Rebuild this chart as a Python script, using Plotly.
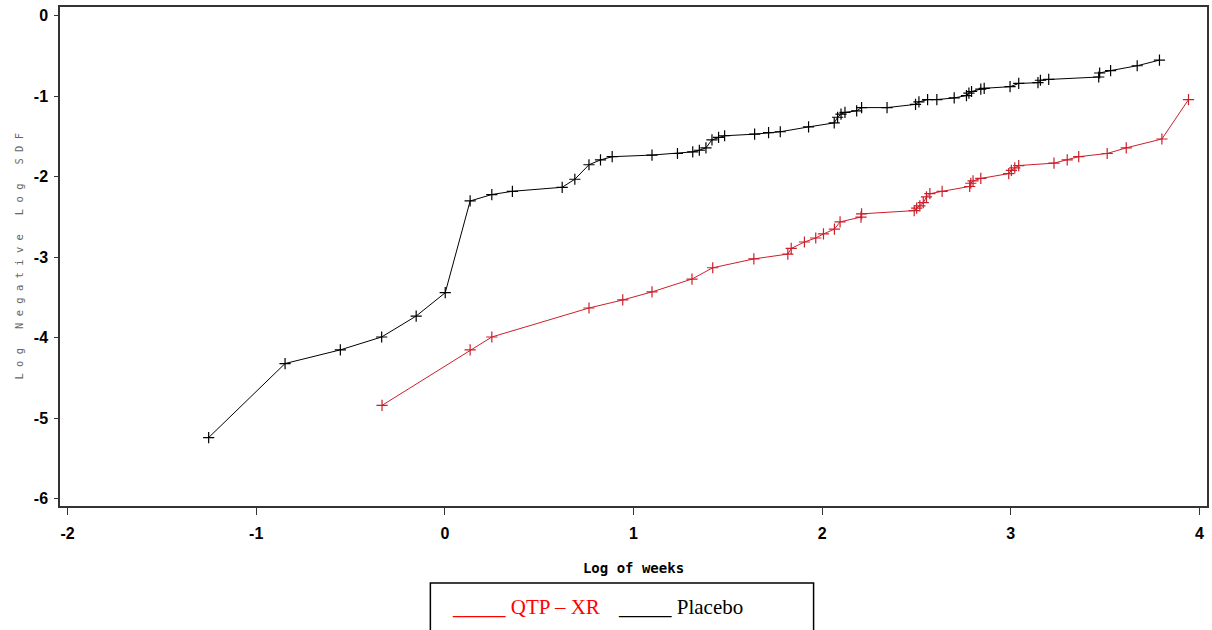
import plotly.graph_objects as go

# Placebo (black)
placebo_x = [-1.252, -0.847, -0.554, -0.335, -0.152, 0.002, 0.134, 0.249, 0.358, 0.622,
             0.689, 0.764, 0.825, 0.887, 1.098, 1.233, 1.314, 1.349, 1.384, 1.416,
             1.451, 1.483, 1.642, 1.716, 1.778, 1.928, 2.064, 2.082, 2.100, 2.121,
             2.183, 2.209, 2.344, 2.495, 2.513, 2.559, 2.608, 2.700, 2.765, 2.778,
             2.792, 2.841, 2.859, 2.996, 3.042, 3.144, 3.157, 3.201, 3.466, 3.471,
             3.529, 3.670, 3.788]
placebo_y = [-5.24, -4.32, -4.15, -3.99, -3.73, -3.44, -2.30, -2.22, -2.18, -2.13,
             -2.03, -1.85, -1.79, -1.75, -1.73, -1.71, -1.69, -1.67, -1.64, -1.54,
             -1.51, -1.49, -1.47, -1.45, -1.44, -1.38, -1.33, -1.26, -1.22, -1.20,
             -1.18, -1.14, -1.14, -1.10, -1.07, -1.04, -1.04, -1.02, -0.99, -0.96,
             -0.94, -0.91, -0.90, -0.88, -0.84, -0.83, -0.80, -0.79, -0.76, -0.71,
             -0.68, -0.62, -0.55]

# QTP-XR (red)
qtp_x = [-0.333, 0.134, 0.249, 0.764, 0.943, 1.098, 1.310, 1.420, 1.638, 1.818,
         1.836, 1.906, 1.966, 2.007, 2.065, 2.095, 2.206, 2.209, 2.488, 2.501,
         2.518, 2.536, 2.553, 2.571, 2.636, 2.782, 2.788, 2.800, 2.841, 2.989,
         3.003, 3.021, 3.042, 3.229, 3.299, 3.360, 3.511, 3.612, 3.801, 3.942]
qtp_y = [-4.84, -4.15, -3.99, -3.63, -3.53, -3.43, -3.27, -3.13, -3.02, -2.96,
         -2.89, -2.81, -2.76, -2.71, -2.65, -2.56, -2.50, -2.46, -2.42, -2.39,
         -2.36, -2.32, -2.25, -2.21, -2.18, -2.12, -2.08, -2.05, -2.02, -1.96,
         -1.92, -1.89, -1.86, -1.83, -1.79, -1.75, -1.71, -1.64, -1.53, -1.04]

x_ticks = [-2, -1, 0, 1, 2, 3, 4]
y_ticks = [-6, -5, -4, -3, -2, -1, 0]

RED = "#cc1f2a"

fig = go.Figure()
fig.add_trace(go.Scatter(
    x=placebo_x, y=placebo_y, mode="lines+markers", name="Placebo",
    line=dict(color="black", width=1),
    marker=dict(symbol="cross-thin", size=8, line=dict(color="black", width=1.2)),
))
fig.add_trace(go.Scatter(
    x=qtp_x, y=qtp_y, mode="lines+markers", name="QTP – XR",
    line=dict(color=RED, width=1),
    marker=dict(symbol="cross-thin", size=8, line=dict(color=RED, width=1.2)),
))

tick_font = dict(family="Liberation Sans", size=16, color="black", weight="bold")

fig.update_layout(
    width=1212, height=630,
    margin=dict(l=60, r=3, t=7, b=124),
    paper_bgcolor="white", plot_bgcolor="white",
    showlegend=False,
    xaxis=dict(
        range=[-2.04, 4.04], tickvals=x_ticks, ticktext=[str(v) for v in x_ticks],
        showgrid=False, zeroline=False, showline=True, mirror=True,
        linecolor="#333", linewidth=1.5, ticks="outside", ticklen=7, tickwidth=1.2,
        tickcolor="#333", tickfont=tick_font, ticklabelstandoff=5,
        title=dict(text="Log of weeks", font=dict(family="DejaVu Sans Mono", size=14,
                   color="black", weight="bold"), standoff=22),
    ),
    yaxis=dict(
        range=[-6.09, 0.11], tickvals=y_ticks, ticktext=[str(v) for v in y_ticks],
        showgrid=False, zeroline=False, showline=True, mirror=True,
        linecolor="#333", linewidth=1.5, ticks="outside", ticklen=4, tickwidth=1.2,
        tickcolor="#333", tickfont=tick_font, ticklabelstandoff=3,
    ),
)

# y axis title (letter-spaced, gray)
fig.add_annotation(
    text="L o g   N e g a t i v e   L o g   S D F",
    xref="paper", yref="paper", x=-0.0366, y=0.5, xanchor="center", yanchor="middle",
    textangle=-90, showarrow=False,
    font=dict(family="DejaVu Sans Mono", size=10.5, color="#666"),
)

# legend box
fig.add_shape(type="rect", xref="paper", yref="paper",
              x0=0.3229, x1=0.657, y0=-0.30, y1=-0.1543,
              line=dict(color="black", width=1.5), fillcolor="rgba(0,0,0,0)")
fig.add_annotation(
    text="_____ QTP – XR", xref="paper", yref="paper", x=0.3403, y=-0.2024,
    xanchor="left", yanchor="middle", showarrow=False,
    font=dict(family="Liberation Serif, Times New Roman", size=21, color="red"),
)
fig.add_annotation(
    text="_____ Placebo", xref="paper", yref="paper", x=0.4848, y=-0.2024,
    xanchor="left", yanchor="middle", showarrow=False,
    font=dict(family="Liberation Serif, Times New Roman", size=21, color="black"),
)

fig.write_html("out.html")
